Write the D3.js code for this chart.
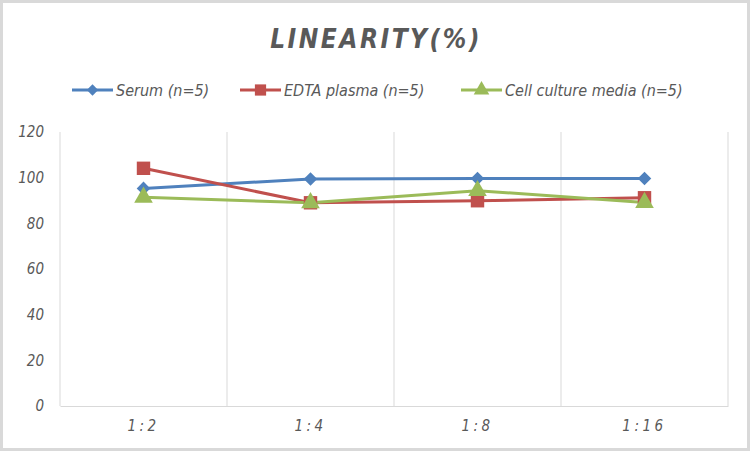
<!DOCTYPE html>
<html>
<head>
<meta charset="utf-8">
<script src="https://cdn.jsdelivr.net/npm/d3@7"></script>
<style>
  body { margin: 0; background: #fff; }
  text { font-family: "Liberation Sans Narrow", "DejaVu Sans Condensed", "Open Sans", sans-serif; font-style: italic; fill: #595959; }
</style>
</head>
<body>
<div id="chart"></div>
<script>
const categories = ['1:2', '1:4', '1:8', '1:16']
const yTicks = [0, 20, 40, 60, 80, 100, 120]
const seriesNames = ['Serum (n=5)', 'EDTA plasma (n=5)', 'Cell culture media (n=5)']
const serum = [95.3, 99.4, 99.6, 99.6]
const edta = [104.1, 89.0, 89.9, 91.2]
const cellMedia = [91.4, 89.0, 94.3, 89.1]

const width = 752
const height = 452
const padding = { top: 132, right: 24, bottom: 46, left: 60 }

const colors = ['#4f81bd', '#c0504d', '#9bbb59']
const shapes = [d3.symbolSquare, d3.symbolSquare, d3.symbolTriangle]
const rotations = [45, 0, 0]
const sizes = [92, 180, 150]
const data = [serum, edta, cellMedia]

const svg = d3.select('#chart').append('svg').attr('width', width).attr('height', height)

svg.append('rect')
  .attr('x', 1.5).attr('y', 1.5)
  .attr('width', width - 5).attr('height', height - 4)
  .attr('fill', '#fff').attr('stroke', '#d9d9d9').attr('stroke-width', 3)

const xScale = d3.scaleBand()
  .domain(categories)
  .range([padding.left, width - padding.right])
const yScale = d3.scaleLinear()
  .domain([0, 120])
  .range([height - padding.bottom, padding.top])

// vertical grid lines on category boundaries
const bounds = categories.map(c => xScale(c)).concat([xScale.range()[1]])
svg.append('g')
  .selectAll('line')
  .data(bounds)
  .enter()
  .append('line')
  .attr('x1', d => d).attr('x2', d => d)
  .attr('y1', yScale(120)).attr('y2', yScale(0))
  .attr('stroke', '#d9d9d9').attr('stroke-width', 1)

// bottom axis
const xAxis = svg.append('g')
  .attr('transform', 'translate(0,' + yScale(0) + ')')
  .call(d3.axisBottom(xScale).tickSize(0).tickPadding(14))
xAxis.select('.domain').attr('stroke', '#d9d9d9')
xAxis.selectAll('text').attr('font-size', 15).attr('letter-spacing', 3.5)

// left axis
const yAxis = svg.append('g')
  .attr('transform', 'translate(' + padding.left + ',0)')
  .call(d3.axisLeft(yScale).tickValues(yTicks).tickSize(0).tickPadding(16))
yAxis.select('.domain').remove()
yAxis.selectAll('text').attr('font-size', 15)

// title
svg.append('text')
  .attr('x', 376).attr('y', 48)
  .attr('text-anchor', 'middle')
  .attr('font-size', 26).attr('font-weight', 'bold')
  .attr('letter-spacing', 2.5)
  .text('LINEARITY(%)')

// lines and markers
const line = d3.line()
  .x((d, i) => xScale(categories[i]) + xScale.bandwidth() / 2)
  .y(d => yScale(d))

data.forEach(function(values, s) {
  svg.append('path')
    .datum(values)
    .attr('fill', 'none')
    .attr('stroke', colors[s])
    .attr('stroke-width', 3)
    .attr('d', line)
})
data.forEach(function(values, s) {
  svg.append('g')
    .selectAll('path')
    .data(values)
    .enter()
    .append('path')
    .attr('transform', (d, i) => 'translate(' + (xScale(categories[i]) + xScale.bandwidth() / 2) + ',' + yScale(d) + ') rotate(' + rotations[s] + ')')
    .attr('d', d3.symbol().type(shapes[s]).size(sizes[s]))
    .attr('fill', colors[s])
})

// legend
const legendX = [72, 240, 461]
const legend = svg.append('g')
seriesNames.forEach(function(name, s) {
  const g = legend.append('g').attr('transform', 'translate(' + legendX[s] + ',90)')
  g.append('line').attr('x1', 0).attr('x2', 41).attr('y1', 0).attr('y2', 0)
    .attr('stroke', colors[s]).attr('stroke-width', 3)
  g.append('path').attr('transform', 'translate(20.5,0) rotate(' + rotations[s] + ')')
    .attr('d', d3.symbol().type(shapes[s]).size(sizes[s] * 0.7))
    .attr('fill', colors[s])
  g.append('text').attr('x', 44).attr('y', 6).attr('font-size', 16).text(name)
})
</script>
</body>
</html>
